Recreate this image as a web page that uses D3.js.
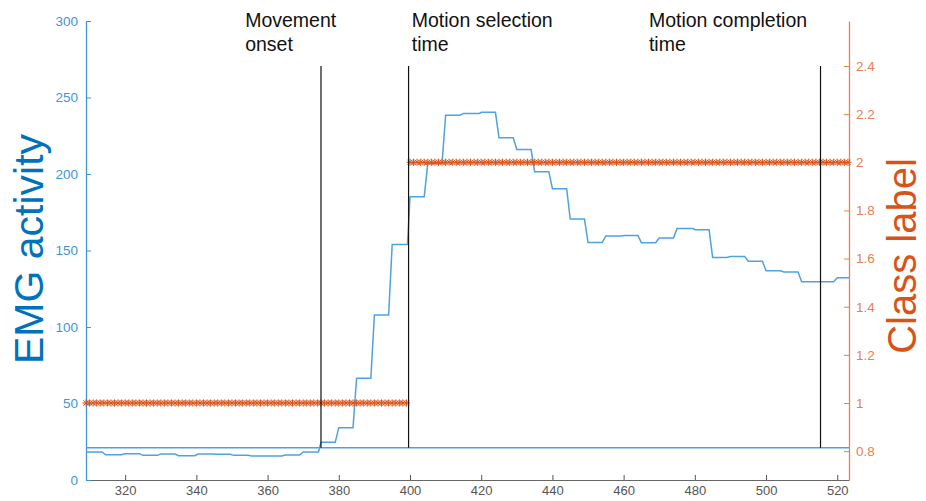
<!DOCTYPE html>
<html>
<head>
<meta charset="utf-8">
<script src="https://cdn.jsdelivr.net/npm/d3@7"></script>
<style>
  body { margin: 0; background: #fff; }
  svg { font-family: "Liberation Sans", Arial, Helvetica, sans-serif; }
</style>
</head>
<body>
<svg width="926" height="501"></svg>
<script>
// EMG signal (time sample, activity)
const emgT = [309, 313.5, 314.5, 319, 319.8, 324, 325, 329, 330, 334, 335, 339.5, 340.5, 344.5, 345.5, 349.5,
  350.5, 354.5, 355.5, 364, 365, 369, 370, 374.3, 375, 379, 380, 384, 385, 389, 390, 394, 395, 399.3,
  400, 404, 405, 409, 410, 414, 415, 419.5, 420, 424, 425, 429, 430, 434, 435, 439, 440, 444, 445, 449,
  450, 454, 455, 459.5, 460, 464, 465, 469, 470, 474, 475, 479.5, 480, 484, 485, 489, 490, 494, 495, 499,
  500, 504, 505, 509, 510, 519, 520, 523.3];
const emgV = [18.3, 18.3, 16.5, 16.5, 17.2, 17.2, 16.1, 16.1, 17, 17, 15.9, 15.9, 17, 17, 16.8, 16.8,
  16.1, 16.1, 15.7, 15.7, 16.3, 16.3, 18.3, 18.3, 24.6, 24.6, 34.2, 34.2, 66.5, 66.5, 107.8, 107.8, 154, 154,
  185.2, 185.2, 207, 207, 238.4, 238.4, 239.6, 239.6, 240.3, 240.3, 223.7, 223.7, 216, 216, 201.5, 201.5, 190.4, 190.4, 170.6, 170.6,
  155.3, 155.3, 159.5, 159.5, 159.8, 159.8, 155.1, 155.1, 158.2, 158.2, 164.3, 164.3, 163.6, 163.6, 145.5, 145.5, 146, 146, 143, 143,
  136.8, 136.8, 136, 136, 129.6, 129.6, 132.2, 132.2];

// class labels: one per sample
const class1Samples = d3.range(309, 400);
const class2Samples = d3.range(400, 524);
const classValues = [1, 2];

const threshold = 21;

// event markers
const eventNames = [["Movement", "onset"], ["Motion selection", "time"], ["Motion completion", "time"]];
const eventTimes = [375, 399.6, 515.3];
const eventTextT = [353.7, 400.5, 467.1];

const xTicks = [320, 340, 360, 380, 400, 420, 440, 460, 480, 500, 520];
const yLeftTicks = [0, 50, 100, 150, 200, 250, 300];
const yRightTicks = [0.8, 1, 1.2, 1.4, 1.6, 1.8, 2, 2.2, 2.4];

const blue = "#0072BD", blueLight = "#3f95d6", blueLine = "#4ea2de";
const orange = "#D95319", orangeLight = "#e8804f";

const svg = d3.select("svg");
const area = { left: 86, right: 849, top: 21, bottom: 480 };

const x = d3.scaleLinear().domain([309, 523.3]).range([area.left, area.right]);
const yL = d3.scaleLinear().domain([0, 300]).range([area.bottom, area.top]);
const yR = d3.scaleLinear().domain([0.68, 2.587]).range([area.bottom, area.top]);

// axes (MATLAB style: ticks inside)
const axX = svg.append("g")
  .attr("transform", `translate(0,${area.bottom})`)
  .call(d3.axisBottom(x).tickValues(xTicks).tickSize(-5).tickPadding(6).tickSizeOuter(0));
axX.select(".domain").attr("stroke", "#666");
axX.selectAll(".tick line").attr("stroke", "#555");
axX.selectAll("text").attr("fill", "#555").style("font-size", "13px").attr("dy", "0.72em");

const axL = svg.append("g")
  .attr("transform", `translate(${area.left},0)`)
  .call(d3.axisLeft(yL).tickValues(yLeftTicks).tickSize(-5).tickPadding(8).tickSizeOuter(0));
axL.select(".domain").attr("stroke", blueLight).attr("stroke-width", 1.3);
axL.selectAll(".tick line").attr("stroke", blueLight);
axL.selectAll("text").attr("fill", blueLight).style("font-size", "13.5px");

const axR = svg.append("g")
  .attr("transform", `translate(${area.right},0)`)
  .call(d3.axisRight(yR).tickValues(yRightTicks).tickSize(-5).tickPadding(7).tickSizeOuter(0)
    .tickFormat(d3.format("~g")));
axR.select(".domain").attr("stroke", orangeLight).attr("stroke-width", 1.3);
axR.selectAll(".tick line").attr("stroke", orangeLight);
axR.selectAll("text").attr("fill", orangeLight).style("font-size", "13.5px");

// axis titles
svg.append("text")
  .attr("transform", `translate(43,249) rotate(-90)`)
  .attr("text-anchor", "middle")
  .attr("fill", blue)
  .style("font-size", "41px")
  .text("EMG activity");

svg.append("text")
  .attr("transform", `translate(916,256) rotate(-90)`)
  .attr("text-anchor", "middle")
  .attr("fill", orange)
  .style("font-size", "40px")
  .text("Class label");

// threshold line
svg.append("line")
  .attr("x1", x(309)).attr("x2", x(523.3))
  .attr("y1", yL(threshold)).attr("y2", yL(threshold))
  .attr("stroke", blueLine).attr("stroke-width", 1.5);

// EMG line
const emgData = emgT.map((t, i) => ({ t: t, v: emgV[i] }));
svg.append("path")
  .datum(emgData)
  .attr("d", d3.line().x(d => x(d.t)).y(d => yL(d.v)))
  .attr("fill", "none")
  .attr("stroke", blueLine)
  .attr("stroke-width", 1.5);

// class label markers (asterisks)
const r = 3.6, k = r * 0.72;
const star = `M${-r},0H${r}M0,${-r}V${r}M${-k},${-k}L${k},${k}M${-k},${k}L${k},${-k}`;
const classData = class1Samples.map(t => ({ t: t, c: classValues[0] }))
  .concat(class2Samples.map(t => ({ t: t, c: classValues[1] })));
svg.append("g")
  .selectAll("path")
  .data(classData)
  .enter()
  .append("path")
  .attr("transform", d => `translate(${x(d.t)},${yR(d.c)})`)
  .attr("d", star)
  .attr("fill", "none")
  .attr("stroke", orange)
  .attr("stroke-width", 1);

// event lines + text
eventTimes.forEach((t, i) => {
  svg.append("line")
    .attr("x1", x(t)).attr("x2", x(t))
    .attr("y1", yR(2.4)).attr("y2", yL(threshold))
    .attr("stroke", "#111").attr("stroke-width", 1.2);
  const txt = svg.append("text")
    .attr("x", x(eventTextT[i]))
    .attr("y", 27)
    .attr("fill", "#111")
    .style("font-size", "19.5px");
  eventNames[i].forEach((line, j) => {
    txt.append("tspan")
      .attr("x", x(eventTextT[i]))
      .attr("dy", j == 0 ? 0 : 24)
      .text(line);
  });
});
</script>
</body>
</html>
